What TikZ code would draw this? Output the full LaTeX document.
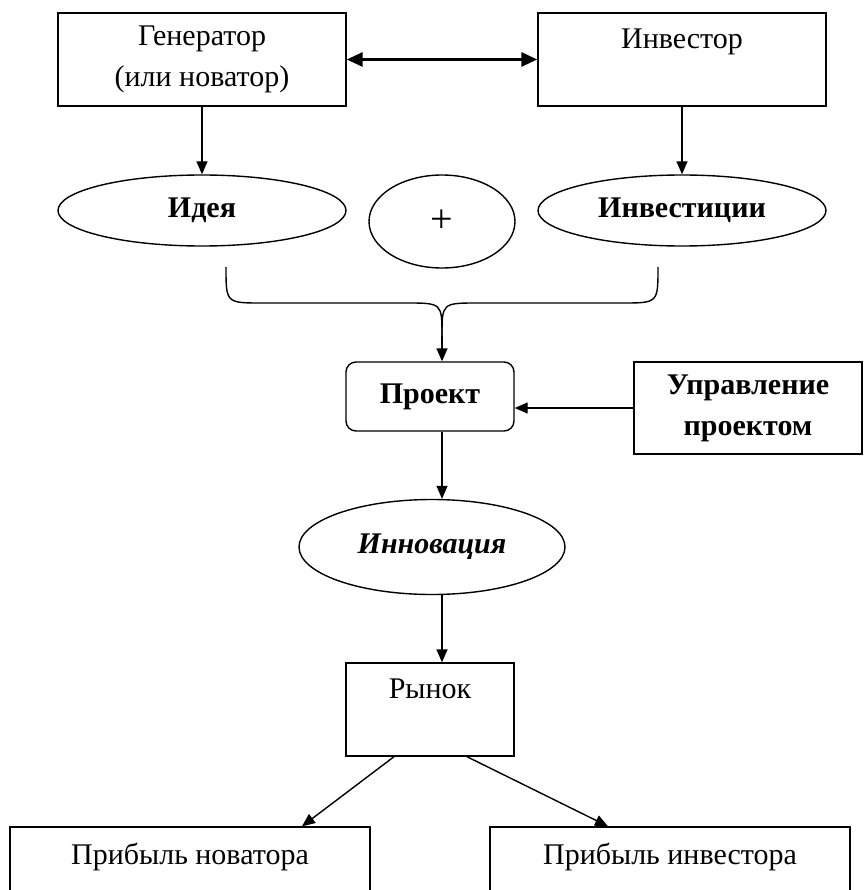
\documentclass[tikz,border=0pt]{standalone}
\usepackage{fontspec}
\setmainfont{Liberation Serif}
\usetikzlibrary{shapes.geometric,arrows.meta}

\tikzset{
  caja/.style={draw,line width=1.4pt,minimum width=#1,inner sep=0pt,align=center},
  ovalo/.style={draw,ellipse,line width=1.4pt,inner sep=0pt,align=center},
  flecha/.style={line width=1.4pt,-{Triangle[length=13pt,width=11pt]}}
}

\begin{document}
\begin{tikzpicture}[x=1pt,y=-1pt,font=\fontsize{30}{41}\selectfont]
  \fill[white] (0,0) rectangle (864,890);
  \useasboundingbox (0,0) rectangle (864,890);

  % fila superior
  \node (generador) [caja=288pt,minimum height=93pt] at (202,59.5) {Генератор\\(или новатор)};
  \node (inversor) [caja=288pt,minimum height=93pt] at (682,59.5) {Инвестор\\\mbox{}};
  \draw[line width=3pt,{Triangle[length=16pt,width=14pt]}-{Triangle[length=16pt,width=14pt]}]
    (generador) -- (inversor);

  % idea + inversiones
  \node (idea) [ovalo,minimum width=288pt,minimum height=71pt] at (202,210.5) {\textbf{Идея}};
  \node (mas) [ovalo,minimum width=146pt,minimum height=93pt,font=\fontsize{40}{40}\selectfont] at (442,221.5) {+};
  \node (inversion) [ovalo,minimum width=288pt,minimum height=71pt] at (682,210.5) {\textbf{Инвестиции}};
  \draw[flecha] (generador.south) -- (idea.north);
  \draw[flecha] (inversor.south) -- (inversion.north);

  % llave
  \coordinate (llaveI) at (226,267);
  \coordinate (llaveD) at (658,267);
  \coordinate (llaveM) at (442,336);
  \draw[line width=1.4pt] (llaveI) .. controls (226,303) and (226,303) .. (262,303) -- (406,303)
    .. controls (442,303) and (442,303) .. (llaveM);
  \draw[line width=1.4pt] (llaveD) .. controls (658,303) and (658,303) .. (622,303) -- (478,303)
    .. controls (442,303) and (442,303) .. (llaveM);

  % proyecto
  \node (proyecto) [caja=168pt,minimum height=69pt,rounded corners=10pt] at (430,396.5) {\textbf{Проект}};
  \node (gestion) [caja=228pt,minimum height=92pt] at (748,408) {\textbf{Управление}\\\textbf{проектом}};
  \draw[flecha] (llaveM) -- (llaveM |- proyecto.north);
  \draw[flecha] (gestion.west) -- (gestion.west -| proyecto.east);

  % innovacion y mercado
  \coordinate (eje) at (442,0);
  \node (innovacion) [ovalo,minimum width=266pt,minimum height=95pt] at (432,547) {\textbf{\textit{Инновация}}};
  \node (mercado) [caja=168pt,minimum height=93pt] at (430,709.5) {Рынок\\\mbox{}};
  \draw[flecha] (proyecto.south -| eje) -- (innovacion.north -| eje);
  \draw[flecha] (innovacion.south -| eje) -- (mercado.north -| eje);

  % ganancias
  \node (ganNovador) [caja=360pt,minimum height=94pt] at (190,874) {Прибыль новатора\\\mbox{}};
  \node (ganInversor) [caja=360pt,minimum height=94pt] at (670,874) {Прибыль инвестора\\\mbox{}};
  \draw[flecha] ([xshift=-36pt]mercado.south) -- ([xshift=112pt]ganNovador.north);
  \draw[flecha] ([xshift=37pt]mercado.south) -- ([xshift=-62pt]ganInversor.north);
\end{tikzpicture}
\end{document}
